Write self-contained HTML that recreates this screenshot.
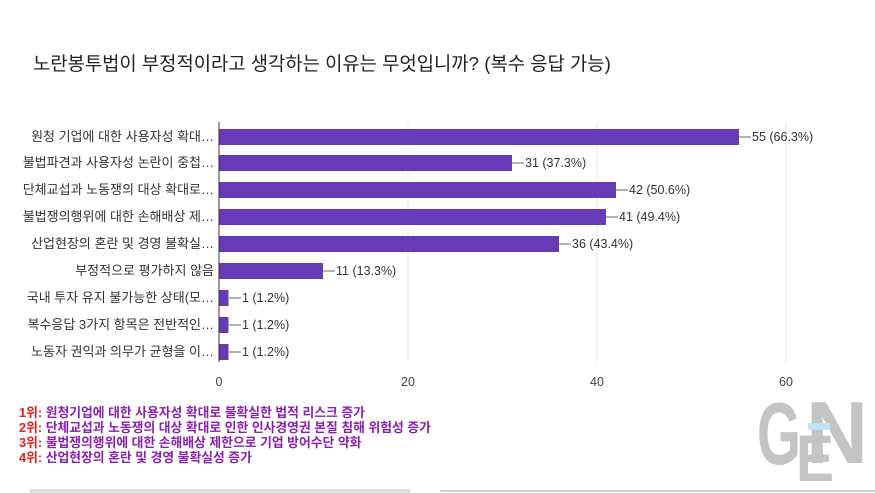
<!DOCTYPE html>
<html><head><meta charset="utf-8"><style>
body{margin:0;background:#fff;width:875px;height:493px;overflow:hidden}
svg{display:block}
text{font-family:"Liberation Sans","Noto Sans CJK KR",sans-serif}
</style></head><body>
<svg width="875" height="493" viewBox="0 0 875 493">
<rect width="875" height="493" fill="#fff"/>
<text x="33" y="70" font-size="18.8" fill="#222">노란봉투법이 부정적이라고 생각하는 이유는 무엇입니까? (복수 응답 가능)</text>
<g stroke="#e6e6e6" stroke-width="1">
<line x1="408" y1="122" x2="408" y2="362"/>
<line x1="597" y1="122" x2="597" y2="362"/>
<line x1="786" y1="122" x2="786" y2="362"/>
</g>
<g fill="#673ab7">
<rect x="219" y="129" width="520" height="16"/>
<rect x="219" y="155" width="293" height="16"/>
<rect x="219" y="182" width="397" height="16"/>
<rect x="219" y="209" width="387" height="16"/>
<rect x="219" y="236" width="340" height="16"/>
<rect x="219" y="263" width="104" height="16"/>
<rect x="219" y="290" width="9.5" height="16"/>
<rect x="219" y="317" width="9.5" height="16"/>
<rect x="219" y="344" width="9.5" height="16"/>
</g>
<line x1="219" y1="122" x2="219" y2="362" stroke="#333" stroke-width="1"/>
<g font-size="13" fill="#333" text-anchor="end">
<text x="214" y="141">원청 기업에 대한 사용자성 확대…</text>
<text x="214" y="167">불법파견과 사용자성 논란이 중첩…</text>
<text x="214" y="194">단체교섭과 노동쟁의 대상 확대로…</text>
<text x="214" y="221">불법쟁의행위에 대한 손해배상 제…</text>
<text x="214" y="248">산업현장의 혼란 및 경영 불확실…</text>
<text x="214" y="275">부정적으로 평가하지 않음</text>
<text x="214" y="302">국내 투자 유지 불가능한 상태(모…</text>
<text x="214" y="329">복수응답 3가지 항목은 전반적인…</text>
<text x="214" y="356">노동자 권익과 의무가 균형을 이…</text>
</g>
<g stroke="#666" stroke-width="1">
<line x1="739" y1="137" x2="751" y2="137"/>
<line x1="512" y1="163" x2="524" y2="163"/>
<line x1="616" y1="190" x2="628" y2="190"/>
<line x1="606" y1="217" x2="618" y2="217"/>
<line x1="559" y1="244" x2="571" y2="244"/>
<line x1="323" y1="271" x2="335" y2="271"/>
<line x1="229" y1="298" x2="241" y2="298"/>
<line x1="229" y1="325" x2="241" y2="325"/>
<line x1="229" y1="352" x2="241" y2="352"/>
</g>
<g font-size="12.5" fill="#333">
<text x="752" y="141">55 (66.3%)</text>
<text x="525" y="167">31 (37.3%)</text>
<text x="629" y="194">42 (50.6%)</text>
<text x="619" y="221">41 (49.4%)</text>
<text x="572" y="248">36 (43.4%)</text>
<text x="336" y="275">11 (13.3%)</text>
<text x="242" y="302">1 (1.2%)</text>
<text x="242" y="329">1 (1.2%)</text>
<text x="242" y="356">1 (1.2%)</text>
</g>
<g font-size="12.5" fill="#444" text-anchor="middle">
<text x="219" y="386">0</text>
<text x="408" y="386">20</text>
<text x="597" y="386">40</text>
<text x="786" y="386">60</text>
</g>
<g font-size="12.8" font-weight="bold">
<text x="19" y="417"><tspan fill="#e02020">1위:</tspan><tspan fill="#8a1fb0"> 원청기업에 대한 사용자성 확대로 불확실한 법적 리스크 증가</tspan></text>
<text x="19" y="432"><tspan fill="#e02020">2위:</tspan><tspan fill="#8a1fb0"> 단체교섭과 노동쟁의 대상 확대로 인한 인사경영권 본질 침해 위험성 증가</tspan></text>
<text x="19" y="447"><tspan fill="#e02020">3위:</tspan><tspan fill="#8a1fb0"> 불법쟁의행위에 대한 손해배상 제한으로 기업 방어수단 약화</tspan></text>
<text x="19" y="462"><tspan fill="#e02020">4위:</tspan><tspan fill="#8a1fb0"> 산업현장의 혼란 및 경영 불확실성 증가</tspan></text>
</g>
<g fill="#c4c4c4" font-weight="bold">
<text x="757" y="464" font-size="88" textLength="44" lengthAdjust="spacingAndGlyphs">G</text>
<text x="796" y="481" font-size="66" textLength="38" lengthAdjust="spacingAndGlyphs">E</text>
<text x="806" y="463" font-size="88" textLength="62" lengthAdjust="spacingAndGlyphs">N</text>
</g>
<rect x="808" y="423" width="22" height="7" fill="#bfe3f2"/>
<line x1="440" y1="491" x2="875" y2="491" stroke="#d8c8ec" stroke-width="2"/>
<rect x="30" y="489" width="380" height="4" fill="#ddd"/>
</svg>
</body></html>
